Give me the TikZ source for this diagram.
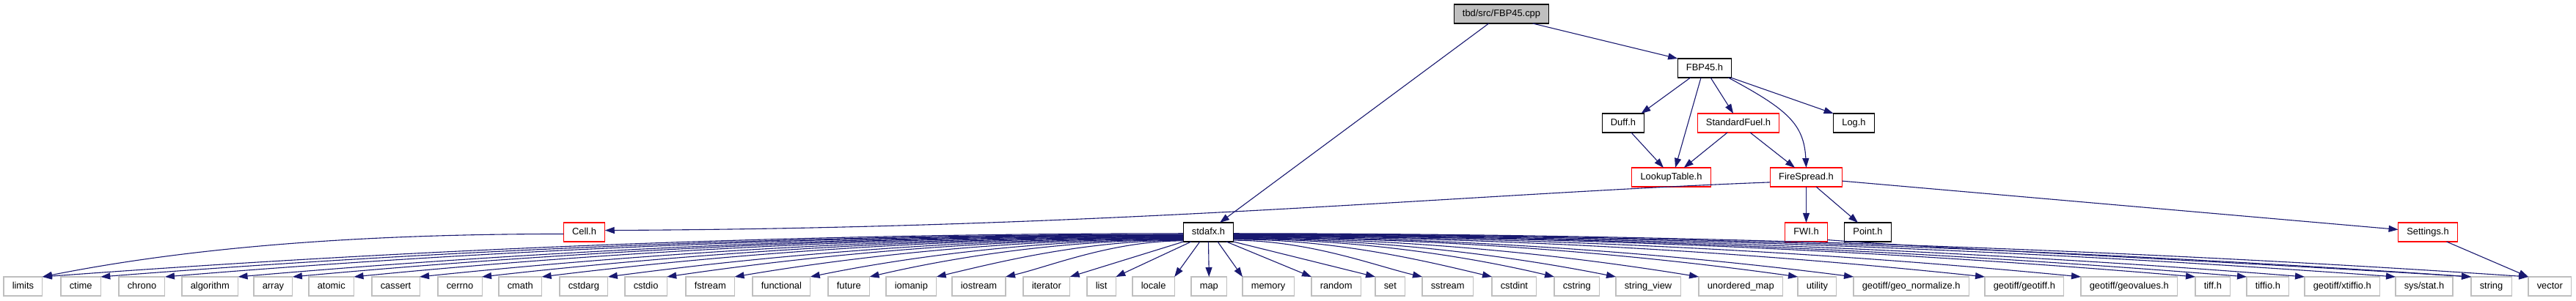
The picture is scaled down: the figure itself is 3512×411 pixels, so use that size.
\documentclass[tikz,border=0pt]{standalone}
\usepackage{fontspec}
\setmainfont{Liberation Sans}
\usetikzlibrary{arrows.meta}
\definecolor{edgeblue}{HTML}{191970}
\definecolor{boxgray}{HTML}{BFBFBF}
\begin{document}
\begin{tikzpicture}[x=1pt,y=-1pt,
  box/.style={draw, line width=1.1pt, inner xsep=11.75pt, inner ysep=0pt,
    minimum height=26pt, outer sep=0pt, text height=9.4pt, text depth=2.6pt,
    font=\fontsize{12.9}{15}\selectfont, fill=white},
  rootbox/.style={box, draw=black, fill=boxgray},
  blkbox/.style={box, draw=black},
  redbox/.style={box, draw=red},
  sysbox/.style={box, draw=boxgray, anchor=west},
  dep/.style={draw=edgeblue, line width=1.1pt, -{Triangle[length=13pt,width=9pt]}}
]
\useasboundingbox (0,0) rectangle (3512,411);

% upper nodes
\node[rootbox] (cpp) at (2047,19) {tbd/src/FBP45.cpp};
\node[blkbox] (fbp) at (2324,93) {FBP45.h};
\node[blkbox] (duff) at (2213,168) {Duff.h};
\node[redbox] (sfuel) at (2370,168) {StandardFuel.h};
\node[blkbox] (log) at (2527.5,168) {Log.h};
\node[redbox] (lookup) at (2278.5,242) {LookupTable.h};
\node[redbox] (fire) at (2462.5,242) {FireSpread.h};
\node[redbox] (cell) at (796.5,317) {Cell.h};
\node[blkbox] (sd) at (1647.5,317) {stdafx.h};
\node[redbox] (fwi) at (2462.5,317) {FWI.h};
\node[blkbox] (point) at (2546.5,317) {Point.h};
\node[redbox] (settings) at (3310,317) {Settings.h};

% bottom row
\node[sysbox] (limits) at (5,391) {limits};
\node[sysbox] (ctime) at (83,391) {ctime};
\node[sysbox] (chrono) at (162,391) {chrono};
\node[sysbox] (algorithm) at (248,391) {algorithm};
\node[sysbox] (array) at (346,391) {array};
\node[sysbox] (atomic) at (421,391) {atomic};
\node[sysbox] (cassert) at (507,391) {cassert};
\node[sysbox] (cerrno) at (597,391) {cerrno};
\node[sysbox] (cmath) at (680,391) {cmath};
\node[sysbox] (cstdarg) at (763,391) {cstdarg};
\node[sysbox] (cstdio) at (852,391) {cstdio};
\node[sysbox] (fstream) at (935,391) {fstream};
\node[sysbox] (functional) at (1026,391) {functional};
\node[sysbox] (future) at (1129,391) {future};
\node[sysbox] (iomanip) at (1208,391) {iomanip};
\node[sysbox] (iostream) at (1298,391) {iostream};
\node[sysbox] (iterator) at (1395,391) {iterator};
\node[sysbox] (list) at (1482,391) {list};
\node[sysbox] (locale) at (1544,391) {locale};
\node[sysbox] (map) at (1624,391) {map};
\node[sysbox] (memory) at (1694,391) {memory};
\node[sysbox] (random) at (1788,391) {random};
\node[sysbox] (set) at (1875,391) {set};
\node[sysbox] (sstream) at (1939,391) {sstream};
\node[sysbox] (cstdint) at (2034,391) {cstdint};
\node[sysbox] (cstring) at (2119,391) {cstring};
\node[sysbox] (stringview) at (2203,391) {string\_view};
\node[sysbox] (unorderedmap) at (2316,391) {unordered\_map};
\node[sysbox] (utility) at (2451,391) {utility};
\node[sysbox] (geonorm) at (2527,391) {geotiff/geo\_normalize.h};
\node[sysbox] (geotiff) at (2706,391) {geotiff/geotiff.h};
\node[sysbox] (geovalues) at (2837,391) {geotiff/geovalues.h};
\node[sysbox] (tiffh) at (2993,391) {tiff.h};
\node[sysbox] (tiffio) at (3063,391) {tiffio.h};
\node[sysbox] (xtiffio) at (3142,391) {geotiff/xtiffio.h};
\node[sysbox] (sysstat) at (3266,391) {sys/stat.h};
\node[sysbox] (string) at (3369,391) {string};
\node[sysbox] (vector) at (3447,391) {vector};

% upper edges
\draw[dep] (cpp.217) -- (sd.40);
\draw[dep] (cpp.343) -- (fbp.north west);
\draw[dep] (fbp.214) -- (duff.28);
\draw[dep] (fbp.249) -- (lookup.67);
\draw[dep] (fbp.302) -- (sfuel.118);
\draw[dep] (fbp.338) .. controls +(80,43) and +(-3,-60) .. (fire.north);
\draw[dep] (fbp.340) -- (log.north west);
\draw[dep] (duff.310) -- (lookup.129);
\draw[dep] (sfuel.221) -- (lookup.37);
\draw[dep] (sfuel.321) -- (fire.140);
\draw[dep] (fire.188) .. controls +(-400,15) and +(700,-3) .. (cell.5);
\draw[dep] (fire.south) -- (fwi.north);
\draw[dep] (fire.316) -- (point.136);
\draw[dep] (fire.354) -- (settings.175);
\draw[dep] (cell.185) .. controls +(-280,0) and +(200,-40) .. (limits.north east);
\draw[dep] (fwi.340) .. controls +(150,12) and +(-400,-25) .. (string.north west);
\draw[dep] (settings.333) -- (vector.north west);

% stdafx.h -> left
\draw[dep] (sd.183) .. controls +(-622,0) and +(389,-29) .. (limits.north east);
\draw[dep] (sd.185) .. controls +(-590,0) and +(369,-29) .. (ctime.north east);
\draw[dep] (sd.186) .. controls +(-555,0) and +(347,-29) .. (chrono.north east);
\draw[dep] (sd.187) .. controls +(-515,0) and +(322,-28) .. (algorithm.north east);
\draw[dep] (sd.188) .. controls +(-486,0) and +(304,-28) .. (array.north east);
\draw[dep] (sd.189) .. controls +(-452,0) and +(283,-28) .. (atomic.north east);
\draw[dep] (sd.190) .. controls +(-416,0) and +(260,-27) .. (cassert.north east);
\draw[dep] (sd.191) .. controls +(-382,0) and +(239,-27) .. (cerrno.north east);
\draw[dep] (sd.192) .. controls +(-350,0) and +(219,-27) .. (cmath.north east);
\draw[dep] (sd.193) .. controls +(-314,0) and +(196,-26) .. (cstdarg.north east);
\draw[dep] (sd.194) .. controls +(-282,0) and +(176,-26) .. (cstdio.north east);
\draw[dep] (sd.195) .. controls +(-244,0) and +(153,-26) .. (fstream.north east);
\draw[dep] (sd.196) .. controls +(-203,0) and +(127,-26) .. (functional.north east);
\draw[dep] (sd.197) .. controls +(-171,0) and +(107,-25) .. (future.north east);
\draw[dep] (sd.198) .. controls +(-134,0) and +(84,-20) .. (iomanip.north east);
\draw[dep] (sd.199) .. controls +(-97,0) and +(60,-14) .. (iostream.north east);
\draw[dep] (sd.201) -- (iterator.north east);
\draw[dep] (sd.209) -- (list.north east);
\draw[dep] (sd.228) -- (locale.north east);
\draw[dep] (sd.south) -- (map.north);
\draw[dep] (sd.314) -- (memory.north west);
\draw[dep] (sd.332) -- (random.north west);
\draw[dep] (sd.339) -- (set.north west);

% stdafx.h -> right
\draw[dep] (sd.342) .. controls +(103,0) and +(-64,-15) .. (sstream.north west);
\draw[dep] (sd.344) .. controls +(141,0) and +(-88,-21) .. (cstdint.north west);
\draw[dep] (sd.345) .. controls +(175,0) and +(-109,-26) .. (cstring.north west);
\draw[dep] (sd.346) .. controls +(208,0) and +(-130,-26) .. (stringview.north west);
\draw[dep] (sd.347) .. controls +(254,0) and +(-159,-26) .. (unorderedmap.north west);
\draw[dep] (sd.348) .. controls +(308,0) and +(-192,-27) .. (utility.north west);
\draw[dep] (sd.349) .. controls +(338,0) and +(-211,-27) .. (geonorm.north west);
\draw[dep] (sd.350) .. controls +(410,0) and +(-256,-27) .. (geotiff.north west);
\draw[dep] (sd.351) .. controls +(462,0) and +(-289,-28) .. (geovalues.north west);
\draw[dep] (sd.352) .. controls +(524,0) and +(-328,-28) .. (tiffh.north west);
\draw[dep] (sd.353) .. controls +(552,0) and +(-345,-28) .. (tiffio.north west);
\draw[dep] (sd.354) .. controls +(584,0) and +(-365,-29) .. (xtiffio.north west);
\draw[dep] (sd.355) .. controls +(634,0) and +(-396,-29) .. (sysstat.north west);
\draw[dep] (sd.356) .. controls +(675,0) and +(-422,-29) .. (string.north west);
\draw[dep] (sd.357) .. controls +(706,0) and +(-441,-30) .. (vector.north west);
\end{tikzpicture}
\end{document}
